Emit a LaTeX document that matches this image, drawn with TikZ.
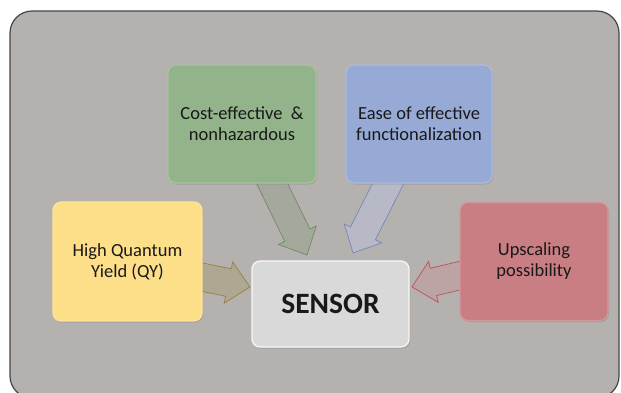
\documentclass[tikz,border=0pt]{standalone}
\usepackage{fontspec}
\setmainfont{Carlito}
\usetikzlibrary{calc,shadows}
\definecolor{bgfill}{RGB}{181,177,175}
\definecolor{bgline}{RGB}{70,70,70}
\definecolor{gfill}{RGB}{147,179,138}
\definecolor{bfill}{RGB}{151,170,214}
\definecolor{yfill}{RGB}{253,222,137}
\definecolor{rfill}{RGB}{200,126,131}
\definecolor{sfill}{RGB}{217,217,217}
\definecolor{yarr}{RGB}{174,168,146}
\definecolor{yedge}{RGB}{150,128,70}
\definecolor{garr}{RGB}{164,169,156}
\definecolor{gedge}{RGB}{110,140,98}
\definecolor{barr}{RGB}{183,186,198}
\definecolor{bedge}{RGB}{120,136,180}
\definecolor{rarr}{RGB}{188,163,164}
\definecolor{redge}{RGB}{192,80,90}
\tikzset{
  box/.style={rounded corners=8pt, minimum width=#1, inner sep=0pt, align=center,
    font=\fontsize{18.5}{21}\selectfont, text=black!90, line width=1.2pt,
    drop shadow={shadow xshift=1pt, shadow yshift=-1.5pt, opacity=0.35}},
  arrowshape/.style={line width=0.7pt, line join=miter},
}
% block arrow from named coordinate #1 to named coordinate #2
\newcommand\blockarrow[3]{%
  \path[arrowshape,#3]
    ($(#1)!14pt!90:(#2)$) --
    ($($(#2)!22pt!(#1)$)!14pt!90:(#2)$) --
    ($($(#2)!22pt!(#1)$)!21pt!90:(#2)$) --
    (#2) --
    ($($(#2)!22pt!(#1)$)!21pt!-90:(#2)$) --
    ($($(#2)!22pt!(#1)$)!14pt!-90:(#2)$) --
    ($(#1)!14pt!-90:(#2)$) -- cycle;}
\begin{document}
\begin{tikzpicture}[x=1pt,y=-1pt]
\useasboundingbox (0,0) rectangle (621,392);
\begin{scope}
\clip (0,0) rectangle (621,392);
\draw[fill=bgfill, draw=bgline, line width=1.2pt, rounded corners=22pt] (10,11) rectangle (619,398);
\end{scope}

% arrow coordinates
\coordinate (ys) at (187,274);
\coordinate (yt) at (250,287);
\coordinate (gs) at (265,169);
\coordinate (gt) at (307,255);
\coordinate (bs) at (395,170);
\coordinate (bt) at (353,253);
\coordinate (rs) at (475,272);
\coordinate (rt) at (412,287);

\blockarrow{ys}{yt}{fill=yarr, draw=yedge}
\blockarrow{gs}{gt}{fill=garr, draw=gedge}
\blockarrow{bs}{bt}{fill=barr, draw=bedge}
\blockarrow{rs}{rt}{fill=rarr, draw=redge}

\node[box=148pt, minimum height=118pt, fill=gfill, draw=gfill!80!white] (green) at (242,124)
  {Cost-effective~ \&\\nonhazardous};
\node[box=146pt, minimum height=118pt, fill=bfill, draw=bfill!80!white] (blue) at (419,124)
  {Ease of effective\\functionalization};
\node[box=149pt, minimum height=119pt, fill=yfill, draw=yfill!85!white] (yellow) at (127.5,261.5)
  {High Quantum\\Yield (QY)};
\node[box=148pt, minimum height=118pt, fill=rfill, draw=rfill!80!white] (red) at (534,261.5)
  {Upscaling\\possibility};
\node[box=157pt, minimum height=86pt, fill=sfill, draw=white!85!sfill, font=\fontsize{29.5}{33}\selectfont\bfseries] (sensor) at (330.5,304)
  {SENSOR};
\end{tikzpicture}
\end{document}
